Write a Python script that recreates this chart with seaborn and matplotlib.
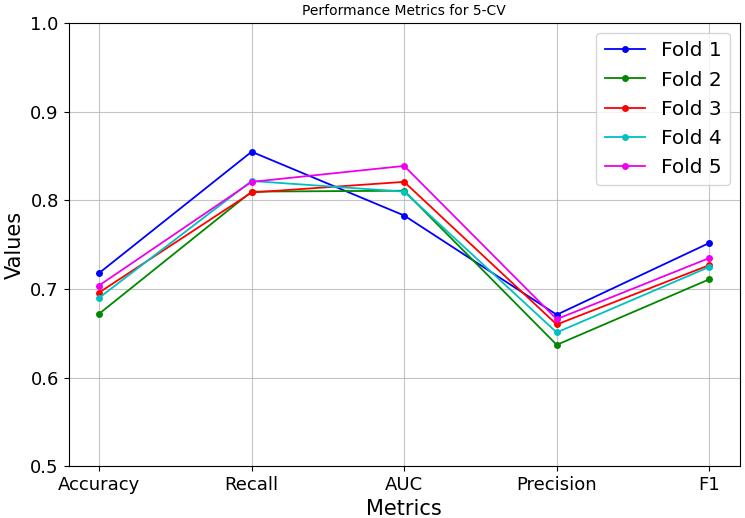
import matplotlib
matplotlib.use("Agg")
import matplotlib.pyplot as plt
import numpy as np
import pandas as pd
import seaborn as sns

metrics = ['Accuracy', 'Recall', 'AUC', 'Precision', 'F1']
folds = ['Fold 1', 'Fold 2', 'Fold 3', 'Fold 4', 'Fold 5']
fold1 = [0.718, 0.855, 0.783, 0.671, 0.752]
fold2 = [0.672, 0.810, 0.811, 0.637, 0.711]
fold3 = [0.696, 0.809, 0.821, 0.660, 0.727]
fold4 = [0.690, 0.822, 0.810, 0.651, 0.725]
fold5 = [0.704, 0.821, 0.839, 0.666, 0.735]
colors = ['#0000ff', '#008800', '#ff0000', '#00c0c0', '#ee00ee']

rows = []
for name, vals in zip(folds, [fold1, fold2, fold3, fold4, fold5]):
    for m, v in zip(metrics, vals):
        rows.append({'Metric': m, 'Value': v, 'Fold': name})
df = pd.DataFrame(rows)

fig, ax = plt.subplots(figsize=(7.45, 5.18), dpi=100)
sns.lineplot(data=df, x='Metric', y='Value', hue='Fold', palette=colors,
             marker='o', markersize=5, markeredgewidth=0, linewidth=1.3,
             sort=False, ax=ax)
ax.set_ylim(0.5, 1.0)
ax.grid(True, alpha=0.75)
ax.set_title('Performance Metrics for 5-CV', fontsize=10)
ax.set_xlabel('Metrics', fontsize=15)
ax.set_ylabel('Values', fontsize=15)
ax.tick_params(labelsize=13)
ax.legend(loc='upper right', fontsize=14.5)
fig.subplots_adjust(left=0.092, right=0.993, top=0.955, bottom=0.1)
fig.savefig('out.png')
